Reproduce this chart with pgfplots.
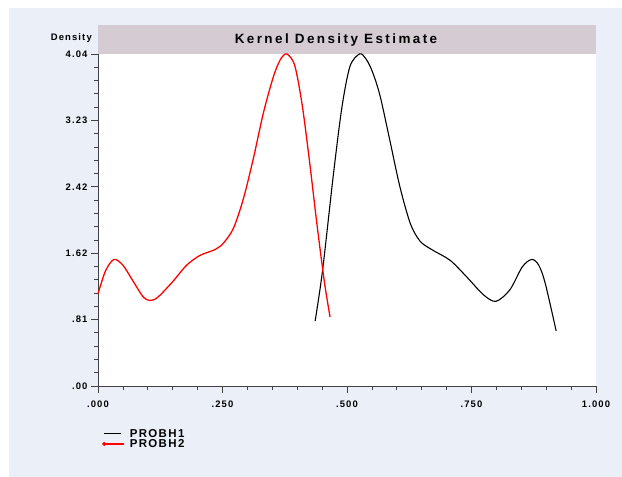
\documentclass[border=0pt]{standalone}
\usepackage{fontspec}
\setmainfont{Liberation Sans}
\newfontfamily\spc[LetterSpace=12]{Liberation Sans}
\newfontfamily\spcb[LetterSpace=18]{Liberation Sans}
\usepackage{pgfplots}
\pgfplotsset{compat=1.18}
\definecolor{bgc}{HTML}{EBF0F8}
\definecolor{band}{HTML}{D4CBD3}
\begin{document}
\begin{tikzpicture}
\useasboundingbox (0bp,0bp) rectangle (622bp,477bp);
\fill[bgc] (9bp,0bp) rectangle (622bp,469bp);
\fill[band] (98bp,423bp) rectangle (596bp,452bp);
\node[font=\spcb\bfseries\fontsize{13.5}{15}\selectfont] at (336bp,437bp) {Kernel Density Estimate};
\node[font=\spc\bfseries\fontsize{9.5}{11}\selectfont, anchor=east, inner sep=0pt] at (92bp,439bp) {Density};
\begin{axis}[
  at={(98bp,91bp)}, anchor=origin,
  scale only axis, width=498bp, height=332bp,
  xmin=0, xmax=1, ymin=0, ymax=4.04,
  axis lines=left,
  axis line style={-, line width=0.9pt, black!75},
  axis background/.style={fill=white},
  tick style={line width=0.8pt, black!75},
  tick align=outside,
  major tick length=7bp, minor tick length=4bp,
  xtick={0,0.25,0.5,0.75,1},
  xticklabels={.000,.250,.500,.750,1.000},
  minor x tick num=4,
  ytick={0,0.808,1.616,2.424,3.232,4.04},
  yticklabels={.00,.81,1.62,2.42,3.23,4.04},
  minor y tick num=4,
  ticklabel style={font=\spc\bfseries\fontsize{9.5}{11}\selectfont},
  xticklabel style={yshift=-4bp},
  clip=false,
  legend style={at={(0,0)}, anchor=north west, xshift=3bp, yshift=-40bp, draw=none, fill=none,
    font=\spc\bfseries\fontsize{11.5}{12}\selectfont, row sep=-3.5bp, inner sep=1bp,
    /tikz/every odd column/.append style={column sep=3bp}},
  legend cell align=left,
]
\addplot[black, line width=1.1pt, smooth] coordinates {
(0.436,0.79) (0.451,1.41) (0.473,2.59) (0.490,3.40) (0.506,3.89) (0.525,4.04)
(0.537,3.99) (0.550,3.84) (0.566,3.54) (0.586,2.99) (0.606,2.43) (0.627,1.98) (0.647,1.76)
(0.673,1.65) (0.707,1.53) (0.740,1.33) (0.774,1.11) (0.799,1.03) (0.827,1.17)
(0.852,1.45) (0.871,1.54) (0.885,1.47) (0.898,1.25) (0.920,0.67)
};
\addlegendentry{PROBH1}
\addplot[red, line width=1.3pt, smooth,
  legend image code/.code={\draw[red,line width=1.3pt] (0,0)--(20bp,0); \fill[red] (0,0) circle (1.3pt);}] coordinates {
(0,1.12) (0.015,1.40) (0.032,1.54) (0.05,1.47) (0.07,1.28) (0.09,1.09) (0.104,1.04)
(0.12,1.08) (0.15,1.27) (0.178,1.47) (0.205,1.59) (0.235,1.66) (0.252,1.74)
(0.272,1.92) (0.292,2.28) (0.312,2.77) (0.332,3.32) (0.352,3.76) (0.366,3.97)
(0.379,4.04) (0.395,3.90) (0.41,3.42) (0.425,2.72) (0.44,1.95) (0.455,1.25)
(0.466,0.84)
};
\addlegendentry{PROBH2}
\end{axis}
\end{tikzpicture}
\end{document}
